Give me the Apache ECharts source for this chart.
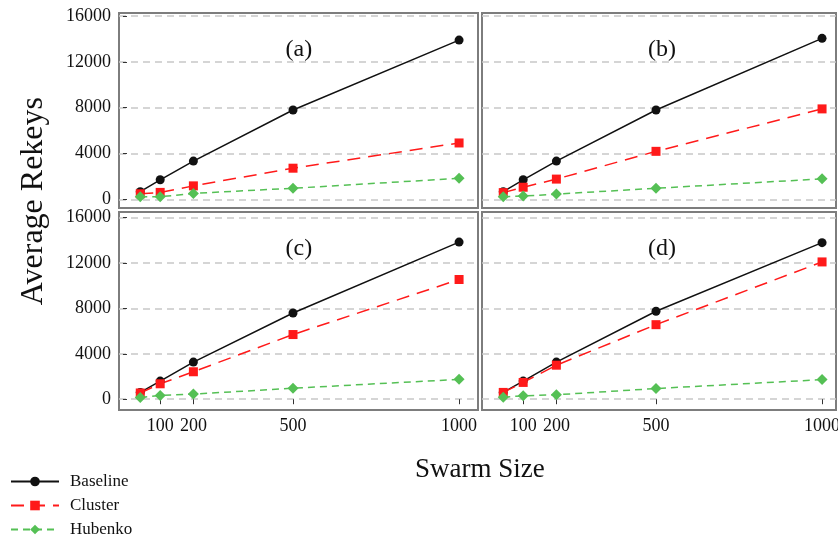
<!DOCTYPE html>
<html>
<head>
<meta charset="utf-8">
<script src="https://cdn.jsdelivr.net/npm/echarts@6/dist/echarts.min.js"></script>
<style>
  html, body { margin: 0; padding: 0; background: #fff; }
  #chart { width: 838px; height: 541px; }
</style>
</head>
<body>
<div id="chart"></div>
<script>
// swarm sizes on the x axis
const swarmSizes = [40, 100, 200, 500, 1000];
const xTicks = [100, 200, 500, 1000];
const yTicks = [0, 4000, 8000, 12000, 16000];
const panelLabels = ["(a)", "(b)", "(c)", "(d)"];
const seriesNames = ["Baseline", "Cluster", "Hubenko"];

// average rekeys per panel
const baselineA = [680, 1720, 3350, 7800, 13900];
const clusterA = [500, 620, 1190, 2730, 4930];
const hubenkoA = [240, 240, 530, 980, 1850];

const baselineB = [680, 1720, 3350, 7800, 14050];
const clusterB = [600, 1070, 1780, 4200, 7900];
const hubenkoB = [240, 300, 470, 980, 1800];

const baselineC = [600, 1600, 3270, 7600, 13850];
const clusterC = [550, 1360, 2420, 5700, 10550];
const hubenkoC = [150, 330, 450, 970, 1750];

const baselineD = [600, 1600, 3270, 7750, 13800];
const clusterD = [600, 1480, 3000, 6570, 12100];
const hubenkoD = [180, 300, 390, 940, 1730];

const panels = [
  { baseline: baselineA, cluster: clusterA, hubenko: hubenkoA },
  { baseline: baselineB, cluster: clusterB, hubenko: hubenkoB },
  { baseline: baselineC, cluster: clusterC, hubenko: hubenkoC },
  { baseline: baselineD, cluster: clusterD, hubenko: hubenkoD },
];

const FONT = "Liberation Serif";
const COLORS = { baseline: "#111111", cluster: "#ff1a1a", hubenko: "#55c055" };

// layout of the four boxes
const boxes = [
  { left: 119, top: 13, width: 359, height: 195, xMax: 1057, yMin: -740, yMax: 16260 },
  { left: 482, top: 13, width: 354, height: 195, xMax: 1042, yMin: -740, yMax: 16260 },
  { left: 119, top: 212, width: 359, height: 198, xMax: 1057, yMin: -950, yMax: 16500 },
  { left: 482, top: 212, width: 354, height: 198, xMax: 1042, yMin: -950, yMax: 16500 },
];

function pairs(values) {
  return swarmSizes.map((x, i) => [x, values[i]]);
}

const plain = (v) => String(v);

const grid = boxes.map((b) => ({
  left: b.left, top: b.top, width: b.width, height: b.height,
  outerBoundsMode: "none",
  show: true, borderColor: "#7d7d7d", borderWidth: 2, backgroundColor: "transparent",
}));

const xAxis = boxes.map((b, i) => ({
  type: "value",
  gridIndex: i,
  min: -24,
  max: b.xMax,
  axisLine: { show: false },
  axisTick: { show: i >= 2, customValues: xTicks, length: 5, lineStyle: { color: "#333" } },
  axisLabel: {
    show: i >= 2, customValues: xTicks, formatter: plain,
    fontFamily: FONT, fontSize: 18, color: "#111", margin: 7,
  },
  splitLine: { show: false },
}));

const yAxis = boxes.map((b, i) => ({
  type: "value",
  gridIndex: i,
  min: b.yMin,
  max: b.yMax,
  axisLine: { show: false },
  axisTick: { show: i % 2 === 0, customValues: yTicks, length: 4, lineStyle: { color: "#333" } },
  axisLabel: {
    show: i % 2 === 0, customValues: yTicks, formatter: plain,
    fontFamily: FONT, fontSize: 18, color: "#111", margin: 8,
  },
  splitLine: { show: true, lineStyle: { color: "#c8c8c8", type: [7, 5], width: 1.5 } },
}));

const series = [];
panels.forEach((p, i) => {
  series.push({
    name: "Baseline", type: "line", xAxisIndex: i, yAxisIndex: i,
    data: pairs(p.baseline), symbol: "circle", symbolSize: 9,
    lineStyle: { color: COLORS.baseline, width: 1.5 },
    itemStyle: { color: COLORS.baseline },
  });
  series.push({
    name: "Cluster", type: "line", xAxisIndex: i, yAxisIndex: i,
    data: pairs(p.cluster), symbol: "rect", symbolSize: 9,
    lineStyle: { color: COLORS.cluster, width: 1.5, type: [13, 8] },
    itemStyle: { color: COLORS.cluster },
  });
  series.push({
    name: "Hubenko", type: "line", xAxisIndex: i, yAxisIndex: i,
    data: pairs(p.hubenko), symbol: "diamond", symbolSize: 11,
    lineStyle: { color: COLORS.hubenko, width: 1.5, type: [7, 5] },
    itemStyle: { color: COLORS.hubenko },
  });
});

const title = boxes.map((b, i) => ({
  text: panelLabels[i],
  left: b.left + b.width / 2 - 18 + (i % 2 === 0 ? 0 : 2),
  top: b.top + 20,
  textStyle: { fontFamily: FONT, fontSize: 24, fontWeight: "normal", color: "#111" },
}));

// one legend block per row so the entries stack like the original
const legend = seriesNames.map((name, i) => ({
  left: 5,
  top: 468 + i * 24,
  itemWidth: 48,
  itemHeight: 12,
  textStyle: { fontFamily: FONT, fontSize: 17, color: "#111", padding: [0, 0, 0, 6] },
  data: [name],
}));

const chart = echarts.init(document.getElementById("chart"));
chart.setOption({
  animation: false,
  title,
  grid,
  xAxis,
  yAxis,
  series,
  legend,
  graphic: [
    {
      type: "text",
      left: 18,
      top: 97,
      rotation: Math.PI / 2,
      style: { text: "Average Rekeys", font: "32px " + FONT, fill: "#111" },
    },
    {
      type: "text",
      left: 415,
      top: 456,
      style: { text: "Swarm Size", font: "27px " + FONT, fill: "#111" },
    },
  ],
});
</script>
</body>
</html>
